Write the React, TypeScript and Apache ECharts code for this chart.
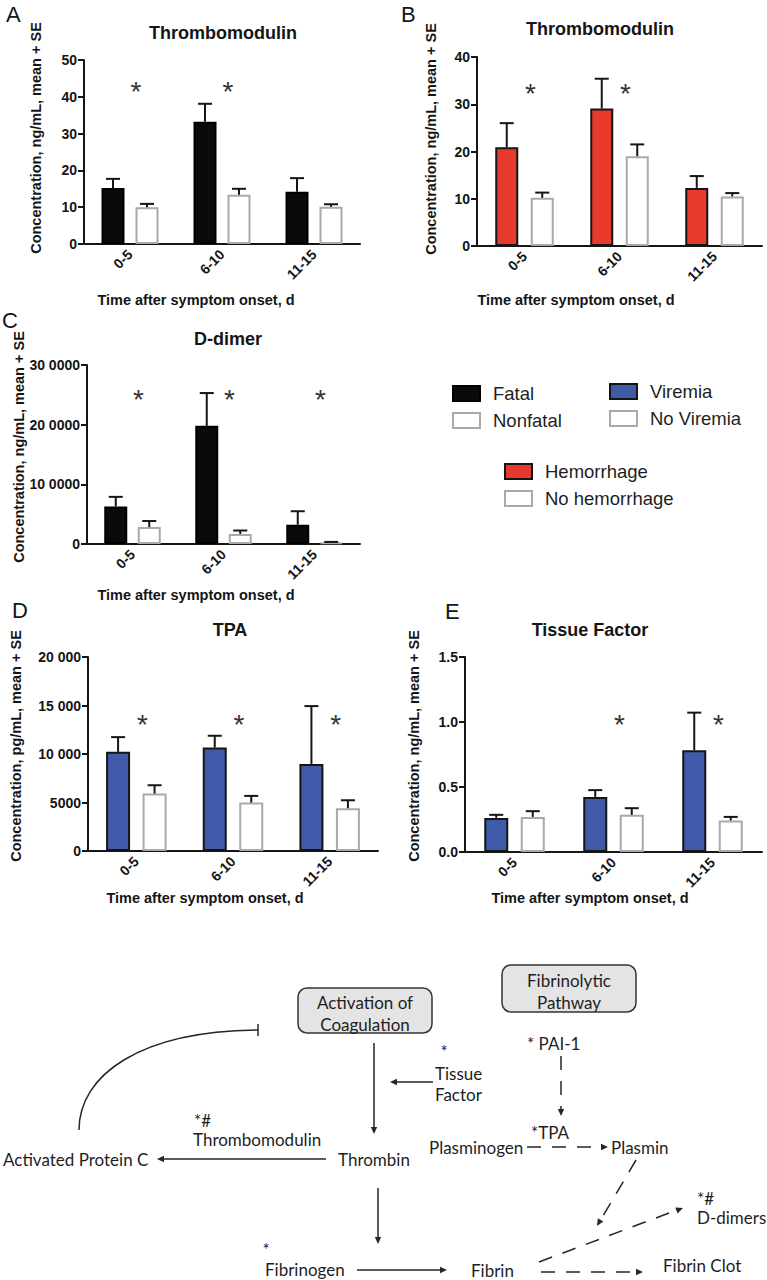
import React, { useEffect, useRef } from 'react';
import * as echarts from 'echarts';

// ---------- data ----------
const categories = ['0-5', '6-10', '11-15'];

// A: Thrombomodulin, fatal vs nonfatal (ng/mL)
const tmFatal = [15.2, 33.2, 14.2];
const tmFatalSE = [2.5, 4.9, 3.7];
const tmNonfatal = [10.0, 13.4, 10.1];
const tmNonfatalSE = [0.9, 1.6, 0.7];
const starsA = [43, 43, null];

// B: Thrombomodulin, hemorrhage vs no hemorrhage (ng/mL)
const tmHem = [20.9, 29.1, 12.3];
const tmHemSE = [5.1, 6.3, 2.5];
const tmNoHem = [10.2, 19.0, 10.5];
const tmNoHemSE = [1.1, 2.5, 0.7];
const starsB = [33.6, 33.6, null];

// C: D-dimer, fatal vs nonfatal (ng/mL)
const ddFatal = [63000, 198000, 32300];
const ddFatalSE = [16000, 55000, 22600];
const ddNonfatal = [28400, 16800, 2500];
const ddNonfatalSE = [10100, 5800, 1000];
const starsC = [253000, 253000, 253000];

// D: TPA, viremia vs no viremia (pg/mL)
const tpaViremia = [10220, 10670, 8980];
const tpaViremiaSE = [1520, 1210, 5960];
const tpaNoViremia = [5920, 4990, 4410];
const tpaNoViremiaSE = [860, 690, 820];
const starsD = [13710, 13710, 13710];

// E: Tissue factor, viremia vs no viremia (ng/mL)
const tfViremia = [0.262, 0.424, 0.782];
const tfViremiaSE = [0.024, 0.052, 0.29];
const tfNoViremia = [0.27, 0.286, 0.242];
const tfNoViremiaSE = [0.044, 0.051, 0.028];
const starsE = [null, 1.03, 1.03];

const yTicksA = ['0', '10', '20', '30', '40', '50'];
const yTicksB = ['0', '10', '20', '30', '40'];
const yTicksC = ['0', '10 0000', '20 0000', '30 0000'];
const yTicksD = ['0', '5000', '10 000', '15 000', '20 000'];
const yTicksE = ['0.0', '0.5', '1.0', '1.5'];

// ---------- styles ----------
const FONT = '"Liberation Sans", Arial, Helvetica, sans-serif';
const DFONT = 'Lato, "Noto Sans", sans-serif';
const INK = '#151515';
const LINE = '#262626';

const FATAL = { color: '#0a0a0a', borderColor: '#000', borderWidth: 2 };
const OPEN = { color: '#ffffff', borderColor: '#a9a9a9', borderWidth: 2 };
const RED = { color: '#e63b2c', borderColor: '#151515', borderWidth: 2 };
const BLUE = { color: '#3f5aa8', borderColor: '#151515', borderWidth: 2 };

const panels = [
  {
    grid: { left: 84, top: 60, width: 276, height: 184 },
    max: 50, interval: 10, ticks: yTicksA, barW: 23, dist: 34,
    a: { name: 'Fatal', vals: tmFatal, se: tmFatalSE, style: FATAL },
    b: { name: 'Nonfatal', vals: tmNonfatal, se: tmNonfatalSE, style: OPEN },
    stars: starsA,
  },
  {
    grid: { left: 477, top: 57, width: 285, height: 189 },
    max: 40, interval: 10, ticks: yTicksB, barW: 23, dist: 35.5,
    a: { name: 'Hemorrhage', vals: tmHem, se: tmHemSE, style: RED },
    b: { name: 'No hemorrhage', vals: tmNoHem, se: tmNoHemSE, style: OPEN },
    stars: starsB,
  },
  {
    grid: { left: 87, top: 365, width: 273, height: 179 },
    max: 300000, interval: 100000, ticks: yTicksC, barW: 23, dist: 33.5,
    a: { name: 'Fatal', vals: ddFatal, se: ddFatalSE, style: FATAL },
    b: { name: 'Nonfatal', vals: ddNonfatal, se: ddNonfatalSE, style: OPEN },
    stars: starsC,
  },
  {
    grid: { left: 88, top: 657, width: 290, height: 194 },
    max: 20000, interval: 5000, ticks: yTicksD, barW: 24, dist: 36.5,
    a: { name: 'Viremia', vals: tpaViremia, se: tpaViremiaSE, style: BLUE },
    b: { name: 'No Viremia', vals: tpaNoViremia, se: tpaNoViremiaSE, style: OPEN },
    stars: starsD,
  },
  {
    grid: { left: 465, top: 657, width: 297, height: 195 },
    max: 1.5, interval: 0.5, ticks: yTicksE, barW: 24, dist: 36.5,
    a: { name: 'Viremia', vals: tfViremia, se: tfViremiaSE, style: BLUE },
    b: { name: 'No Viremia', vals: tfNoViremia, se: tfNoViremiaSE, style: OPEN },
    stars: starsE,
  },
];

const chartTexts = [
  // panel letters
  { t: 'A', x: 6, y: 14, size: 22, w: 'normal', al: 'left' },
  { t: 'B', x: 401, y: 14, size: 22, w: 'normal', al: 'left' },
  { t: 'C', x: 2, y: 320, size: 22, w: 'normal', al: 'left' },
  { t: 'D', x: 12, y: 610, size: 22, w: 'normal', al: 'left' },
  { t: 'E', x: 445, y: 611, size: 22, w: 'normal', al: 'left' },
  // titles
  { t: 'Thrombomodulin', x: 223, y: 33, size: 18, w: 'bold', al: 'center' },
  { t: 'Thrombomodulin', x: 600, y: 29, size: 18, w: 'bold', al: 'center' },
  { t: 'D-dimer', x: 228, y: 339, size: 18, w: 'bold', al: 'center' },
  { t: 'TPA', x: 230, y: 630, size: 18, w: 'bold', al: 'center' },
  { t: 'Tissue Factor', x: 590, y: 630, size: 18, w: 'bold', al: 'center' },
  // x axis names
  { t: 'Time after symptom onset, d', x: 196, y: 300, size: 14.5, w: 'bold', al: 'center' },
  { t: 'Time after symptom onset, d', x: 576, y: 300, size: 14.5, w: 'bold', al: 'center' },
  { t: 'Time after symptom onset, d', x: 196, y: 595, size: 14.5, w: 'bold', al: 'center' },
  { t: 'Time after symptom onset, d', x: 205, y: 898, size: 14.5, w: 'bold', al: 'center' },
  { t: 'Time after symptom onset, d', x: 590, y: 898, size: 14.5, w: 'bold', al: 'center' },
];

const yNames = [
  { t: 'Concentration, ng/mL, mean + SE', x: 36, y: 138 },
  { t: 'Concentration, ng/mL, mean + SE', x: 431, y: 139 },
  { t: 'Concentration, ng/mL, mean + SE', x: 19, y: 447 },
  { t: 'Concentration, pg/mL, mean + SE', x: 16, y: 746 },
  { t: 'Concentration, ng/mL, mean + SE', x: 414, y: 746 },
];

function txt(t: string, x: number, y: number, size: number, weight: string, align: string, family = FONT, fill = INK) {
  return {
    type: 'text',
    x,
    y,
    silent: true,
    style: {
      text: t,
      fill,
      fontSize: size,
      fontWeight: weight,
      fontFamily: family,
      align,
      verticalAlign: 'middle',
      textAlign: align,
      textVerticalAlign: 'middle',
    },
  };
}

function head(x: number, y: number, dx: number, dy: number) {
  const n = Math.hypot(dx, dy);
  const ux = dx / n;
  const uy = dy / n;
  const L = 7;
  const W = 3.2;
  const bx = x - ux * L;
  const by = y - uy * L;
  return {
    type: 'polygon',
    silent: true,
    shape: { points: [[x, y], [bx - uy * W, by + ux * W], [bx + uy * W, by - ux * W]] },
    style: { fill: LINE },
  };
}

function seg(x1: number, y1: number, x2: number, y2: number, dashed = false) {
  return {
    type: 'line',
    silent: true,
    shape: { x1, y1, x2, y2 },
    style: { stroke: LINE, lineWidth: 1.5, lineDash: dashed ? [14, 11] : null, fill: null },
  };
}

function dtxt(t: string, x: number, y: number, align = 'left', size = 17) {
  return txt(t, x, y, size, 'normal', align, DFONT, '#1e1e1e');
}

const diagram: any[] = [
  {
    type: 'rect', silent: true,
    shape: { x: 298, y: 988, width: 134, height: 45, r: 9 },
    style: { fill: '#e4e4e4', stroke: '#333', lineWidth: 1.5 },
  },
  {
    type: 'rect', silent: true,
    shape: { x: 502, y: 965, width: 134, height: 47, r: 9 },
    style: { fill: '#e4e4e4', stroke: '#333', lineWidth: 1.5 },
  },
  dtxt('Activation of', 365, 1002, 'center'),
  dtxt('Coagulation', 365, 1024, 'center'),
  dtxt('Fibrinolytic', 569, 980, 'center'),
  dtxt('Pathway', 569, 1002, 'center'),
  {
    type: 'bezierCurve', silent: true,
    shape: { x1: 79, y1: 1130, x2: 258, y2: 1030, cpx1: 79, cpy1: 1075, cpx2: 140, cpy2: 1031 },
    style: { stroke: LINE, lineWidth: 1.5, fill: null },
  },
  seg(258, 1024, 258, 1036),
  seg(374, 1043, 374, 1128), head(374, 1134, 0, 1),
  seg(433, 1082, 396, 1082), head(390, 1082, -1, 0),
  seg(326, 1159, 163, 1159), head(157, 1159, -1, 0),
  seg(378, 1188, 378, 1238), head(378, 1244, 0, 1),
  seg(357, 1270, 441, 1270), head(447, 1270, 1, 0),
  seg(541, 1272, 637, 1272, true), head(643, 1272, 1, 0),
  seg(561, 1056, 561, 1110, true), head(561, 1116, 0, 1),
  seg(527, 1147, 602, 1147, true), head(608, 1147, 1, 0),
  seg(636, 1160, 600, 1221, true), head(597, 1226, -39, 66),
  seg(539, 1262, 677, 1210, true), head(683, 1208, 144, -54),
  dtxt('*', 444, 1051, 'center', 17),
  dtxt('Tissue', 435, 1073),
  dtxt('Factor', 435, 1094),
  dtxt('*#', 194, 1120, 'left', 17),
  dtxt('Thrombomodulin', 193, 1139),
  dtxt('Activated Protein C', 3, 1159),
  dtxt('Thrombin', 338, 1159),
  dtxt('*', 266, 1249, 'center', 17),
  dtxt('Fibrinogen', 265, 1269),
  dtxt('Fibrin', 471, 1270),
  dtxt('Fibrin Clot', 663, 1265),
  dtxt('* PAI-1', 527, 1043),
  dtxt('*TPA', 531, 1132),
  dtxt('Plasminogen', 429, 1147),
  dtxt('Plasmin', 611, 1147),
  dtxt('*#', 697, 1198, 'left', 17),
  dtxt('D-dimers', 697, 1217),
];

function errRender(side: number, dist: number) {
  return (params: any, api: any) => {
    const i = api.value(0);
    const m = api.value(1);
    const s = api.value(2);
    const base = api.coord([i, m]);
    const top = api.coord([i, m + s]);
    const x = base[0] + (side * dist) / 2;
    return {
      type: 'group',
      children: [
        { type: 'line', shape: { x1: x, y1: base[1], x2: x, y2: top[1] }, style: { stroke: INK, lineWidth: 2 } },
        { type: 'line', shape: { x1: x - 7, y1: top[1], x2: x + 7, y2: top[1] }, style: { stroke: INK, lineWidth: 2 } },
      ],
    };
  };
}

function starRender(params: any, api: any) {
  const p = api.coord([api.value(0), api.value(1)]);
  return {
    type: 'text',
    x: p[0] + 6,
    y: p[1] + 6,
    style: {
      text: '*',
      fill: '#333',
      fontSize: 28,
      fontFamily: FONT,
      align: 'center',
      verticalAlign: 'middle',
      textAlign: 'center',
      textVerticalAlign: 'middle',
    },
  };
}

function buildOption() {
  const grid: any[] = [];
  const xAxis: any[] = [];
  const yAxis: any[] = [];
  const series: any[] = [];

  panels.forEach((p, gi) => {
    grid.push({ ...p.grid, containLabel: false });
    xAxis.push({
      type: 'category',
      gridIndex: gi,
      data: categories,
      axisLine: { lineStyle: { color: INK, width: 2 } },
      axisTick: { alignWithLabel: true, length: 6, lineStyle: { color: INK, width: 2 } },
      axisLabel: { rotate: 45, margin: 8, color: INK, fontSize: 14, fontWeight: 'bold', fontFamily: FONT },
    });
    const ticks = p.ticks;
    const interval = p.interval;
    yAxis.push({
      type: 'value',
      gridIndex: gi,
      min: 0,
      max: p.max,
      interval,
      splitLine: { show: false },
      axisLine: { show: true, lineStyle: { color: INK, width: 2 } },
      axisTick: { show: true, length: 6, lineStyle: { color: INK, width: 2 } },
      axisLabel: {
        margin: 7,
        color: INK,
        fontSize: 14,
        fontWeight: 'bold',
        fontFamily: FONT,
        formatter: (v: number) => ticks[Math.round(v / interval)] ?? '',
      },
    });
    const gap = `${((p.dist - p.barW) / p.barW) * 100}%`;
    [p.a, p.b].forEach((g) => {
      series.push({
        type: 'bar',
        name: g.name,
        xAxisIndex: gi,
        yAxisIndex: gi,
        data: g.vals,
        barWidth: p.barW,
        barGap: gap,
        itemStyle: g.style,
        silent: true,
      });
    });
    [p.a, p.b].forEach((g, k) => {
      series.push({
        type: 'custom',
        name: `err-${gi}-${k}`,
        xAxisIndex: gi,
        yAxisIndex: gi,
        silent: true,
        clip: false,
        encode: { x: 0, y: 1 },
        data: g.vals.map((v, idx) => [idx, v, g.se[idx]]),
        renderItem: errRender(k === 0 ? -1 : 1, p.dist),
        z: 3,
      });
    });
    series.push({
      type: 'custom',
      name: `stars-${gi}`,
      xAxisIndex: gi,
      yAxisIndex: gi,
      silent: true,
      clip: false,
      encode: { x: 0, y: 1 },
      data: p.stars
        .map((v, idx) => (v == null ? null : [idx, v]))
        .filter((d) => d !== null),
      renderItem: starRender,
      z: 3,
    });
  });

  const legendBase = {
    orient: 'vertical',
    icon: 'rect',
    itemWidth: 27,
    itemHeight: 15,
    itemGap: 0,
    padding: 0,
    selectedMode: false,
    textStyle: { fontSize: 18.5, color: '#1e1e1e', fontFamily: FONT, lineHeight: 27, padding: [0, 0, 0, 8] },
  };

  const graphic: any[] = [
    ...chartTexts.map((c) => txt(c.t, c.x, c.y, c.size, c.w, c.al)),
    ...yNames.map((n) => ({ ...txt(n.t, n.x, n.y, 14.5, 'bold', 'center'), rotation: Math.PI / 2 })),
    ...diagram,
  ];

  return {
    animation: false,
    backgroundColor: '#ffffff',
    grid,
    xAxis,
    yAxis,
    series,
    legend: [
      { ...legendBase, data: ['Fatal', 'Nonfatal'], left: 452, top: 380 },
      { ...legendBase, data: ['Viremia', 'No Viremia'], left: 609, top: 378 },
      { ...legendBase, data: ['Hemorrhage', 'No hemorrhage'], left: 504, top: 458 },
    ],
    graphic,
  };
}

export default function App() {
  const ref = useRef<HTMLDivElement>(null);
  useEffect(() => {
    if (!ref.current) return;
    const chart = echarts.init(ref.current, undefined, { renderer: 'svg' });
    chart.setOption(buildOption() as any);
    return () => chart.dispose();
  }, []);
  return (
    <div
      ref={ref}
      style={{ position: 'absolute', left: 0, top: 0, width: 767, height: 1280, background: '#fff' }}
    />
  );
}
